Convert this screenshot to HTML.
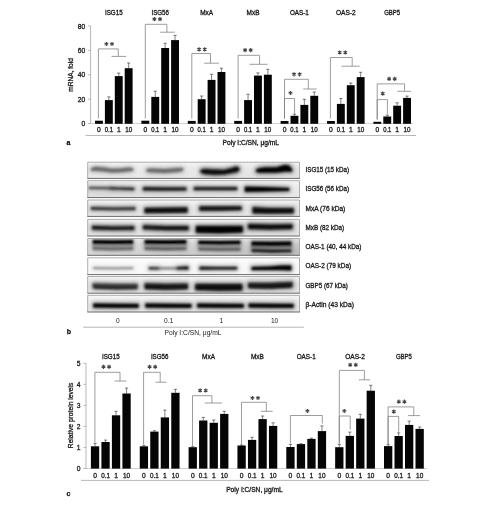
<!DOCTYPE html>
<html><head><meta charset="utf-8"><style>
html,body{margin:0;padding:0;background:#fff;width:496px;height:508px;overflow:hidden}
text{font-family:"Liberation Sans", sans-serif}
</style></head><body>
<svg width="496" height="508" viewBox="0 0 496 508" style="display:block;filter:grayscale(1)">
<defs><filter id="bl" x="-20%" y="-50%" width="140%" height="200%"><feGaussianBlur stdDeviation="0.95"/></filter><linearGradient id="vg" x1="0" x2="0" y1="0" y2="1"><stop offset="0" stop-color="#fff" stop-opacity="0.55"/><stop offset="0.35" stop-color="#fff" stop-opacity="0.15"/><stop offset="0.7" stop-color="#fff" stop-opacity="0"/></linearGradient><filter id="bh" x="-20%" y="-100%" width="140%" height="300%"><feGaussianBlur stdDeviation="2.0"/></filter></defs>
<g font-family='"Liberation Sans", sans-serif'>
<line x1="90.60" y1="25.95" x2="90.60" y2="123.55" stroke="#9a9a9a" stroke-width="0.7"/>
<line x1="88.10" y1="123.55" x2="90.60" y2="123.55" stroke="#9a9a9a" stroke-width="0.7"/>
<text x="85.20" y="126.23" font-size="6.7" text-anchor="end" fill="#1a1a1a" font-weight="normal" stroke="#1a1a1a" stroke-width="0.3">0</text>
<line x1="88.10" y1="99.15" x2="90.60" y2="99.15" stroke="#9a9a9a" stroke-width="0.7"/>
<text x="85.20" y="101.83" font-size="6.7" text-anchor="end" fill="#1a1a1a" font-weight="normal" stroke="#1a1a1a" stroke-width="0.3">20</text>
<line x1="88.10" y1="74.75" x2="90.60" y2="74.75" stroke="#9a9a9a" stroke-width="0.7"/>
<text x="85.20" y="77.43" font-size="6.7" text-anchor="end" fill="#1a1a1a" font-weight="normal" stroke="#1a1a1a" stroke-width="0.3">40</text>
<line x1="88.10" y1="50.35" x2="90.60" y2="50.35" stroke="#9a9a9a" stroke-width="0.7"/>
<text x="85.20" y="53.03" font-size="6.7" text-anchor="end" fill="#1a1a1a" font-weight="normal" stroke="#1a1a1a" stroke-width="0.3">60</text>
<line x1="88.10" y1="25.95" x2="90.60" y2="25.95" stroke="#9a9a9a" stroke-width="0.7"/>
<text x="85.20" y="28.63" font-size="6.7" text-anchor="end" fill="#1a1a1a" font-weight="normal" stroke="#1a1a1a" stroke-width="0.3">80</text>
<line x1="88.10" y1="123.55" x2="413.30" y2="123.55" stroke="#b0b0b0" stroke-width="0.6"/>
<path d="M98.4 118.5V48.9H118.3V56.4" stroke="#7c7c7c" stroke-width="0.75" fill="none"/>
<line x1="111.50" y1="56.40" x2="126.20" y2="56.40" stroke="#7c7c7c" stroke-width="0.75"/>
<path d="M106.40 46.10L106.40 41.90M104.58 45.05L108.22 42.95M104.58 42.95L108.22 45.05" stroke="#444444" stroke-width="1.1" fill="none"/>
<path d="M112.00 46.10L112.00 41.90M110.18 45.05L113.82 42.95M110.18 42.95L113.82 45.05" stroke="#444444" stroke-width="1.1" fill="none"/>
<path d="M145.3 118.5V24.3H166.9V32.2" stroke="#7c7c7c" stroke-width="0.75" fill="none"/>
<line x1="160.10" y1="32.20" x2="174.80" y2="32.20" stroke="#7c7c7c" stroke-width="0.75"/>
<path d="M154.40 21.20L154.40 17.00M152.58 20.15L156.22 18.05M152.58 18.05L156.22 20.15" stroke="#444444" stroke-width="1.1" fill="none"/>
<path d="M160.00 21.20L160.00 17.00M158.18 20.15L161.82 18.05M158.18 18.05L161.82 20.15" stroke="#444444" stroke-width="1.1" fill="none"/>
<path d="M191.8 118.5V53.5H210.5V63.2" stroke="#7c7c7c" stroke-width="0.75" fill="none"/>
<line x1="204.20" y1="63.20" x2="218.90" y2="63.20" stroke="#7c7c7c" stroke-width="0.75"/>
<path d="M199.10 51.50L199.10 47.30M197.28 50.45L200.92 48.35M197.28 48.35L200.92 50.45" stroke="#444444" stroke-width="1.1" fill="none"/>
<path d="M204.70 51.50L204.70 47.30M202.88 50.45L206.52 48.35M202.88 48.35L206.52 50.45" stroke="#444444" stroke-width="1.1" fill="none"/>
<path d="M238.1 118.5V55.3H259.6V64.3" stroke="#7c7c7c" stroke-width="0.75" fill="none"/>
<line x1="249.50" y1="64.30" x2="267.60" y2="64.30" stroke="#7c7c7c" stroke-width="0.75"/>
<path d="M245.10 52.20L245.10 48.00M243.28 51.15L246.92 49.05M243.28 49.05L246.92 51.15" stroke="#444444" stroke-width="1.1" fill="none"/>
<path d="M250.70 52.20L250.70 48.00M248.88 51.15L252.52 49.05M248.88 49.05L252.52 51.15" stroke="#444444" stroke-width="1.1" fill="none"/>
<path d="M284.5 118.5V79.3H308.3V89.0" stroke="#7c7c7c" stroke-width="0.75" fill="none"/>
<line x1="303.20" y1="89.00" x2="316.70" y2="89.00" stroke="#7c7c7c" stroke-width="0.75"/>
<path d="M294.00 76.40L294.00 72.20M292.18 75.35L295.82 73.25M292.18 73.25L295.82 75.35" stroke="#444444" stroke-width="1.1" fill="none"/>
<path d="M299.60 76.40L299.60 72.20M297.78 75.35L301.42 73.25M297.78 73.25L301.42 75.35" stroke="#444444" stroke-width="1.1" fill="none"/>
<path d="M284.5 118.5V98.5H294.6V113.6" stroke="#7c7c7c" stroke-width="0.75" fill="none"/>
<path d="M290.50 95.10L290.50 90.90M288.68 94.05L292.32 91.95M288.68 91.95L292.32 94.05" stroke="#444444" stroke-width="1.1" fill="none"/>
<path d="M330.4 118.5V57.5H352.2V66.2" stroke="#7c7c7c" stroke-width="0.75" fill="none"/>
<line x1="341.50" y1="66.20" x2="359.70" y2="66.20" stroke="#7c7c7c" stroke-width="0.75"/>
<path d="M339.70 54.60L339.70 50.40M337.88 53.55L341.52 51.45M337.88 51.45L341.52 53.55" stroke="#444444" stroke-width="1.1" fill="none"/>
<path d="M345.30 54.60L345.30 50.40M343.48 53.55L347.12 51.45M343.48 51.45L347.12 53.55" stroke="#444444" stroke-width="1.1" fill="none"/>
<path d="M377.2 119.5V83.9H404.6V91.3" stroke="#7c7c7c" stroke-width="0.75" fill="none"/>
<line x1="397.50" y1="91.30" x2="411.00" y2="91.30" stroke="#7c7c7c" stroke-width="0.75"/>
<path d="M389.10 81.00L389.10 76.80M387.28 79.95L390.92 77.85M387.28 77.85L390.92 79.95" stroke="#444444" stroke-width="1.1" fill="none"/>
<path d="M394.70 81.00L394.70 76.80M392.88 79.95L396.52 77.85M392.88 77.85L396.52 79.95" stroke="#444444" stroke-width="1.1" fill="none"/>
<path d="M377.2 119.5V99.6H387.4V114.3" stroke="#7c7c7c" stroke-width="0.75" fill="none"/>
<path d="M382.70 95.70L382.70 91.50M380.88 94.65L384.52 92.55M380.88 92.55L384.52 94.65" stroke="#444444" stroke-width="1.1" fill="none"/>
<rect x="95.00" y="120.70" width="7.9" height="3.10" fill="#050505"/>
<text x="98.95" y="131.53" font-size="6.7" text-anchor="middle" fill="#1a1a1a" font-weight="normal" stroke="#1a1a1a" stroke-width="0.3">0</text>
<line x1="108.85" y1="96.90" x2="108.85" y2="100.10" stroke="#3a3a3a" stroke-width="0.65"/>
<line x1="107.25" y1="96.90" x2="110.45" y2="96.90" stroke="#3a3a3a" stroke-width="0.65"/>
<rect x="104.90" y="100.10" width="7.9" height="23.70" fill="#050505"/>
<text x="108.85" y="131.53" font-size="6.7" text-anchor="middle" fill="#1a1a1a" font-weight="normal" stroke="#1a1a1a" stroke-width="0.3" textLength="8.2" lengthAdjust="spacingAndGlyphs">0.1</text>
<line x1="118.75" y1="73.10" x2="118.75" y2="76.10" stroke="#3a3a3a" stroke-width="0.65"/>
<line x1="117.15" y1="73.10" x2="120.35" y2="73.10" stroke="#3a3a3a" stroke-width="0.65"/>
<rect x="114.80" y="76.10" width="7.9" height="47.70" fill="#050505"/>
<text x="118.75" y="131.53" font-size="6.7" text-anchor="middle" fill="#1a1a1a" font-weight="normal" stroke="#1a1a1a" stroke-width="0.3">1</text>
<line x1="128.65" y1="63.00" x2="128.65" y2="68.20" stroke="#3a3a3a" stroke-width="0.65"/>
<line x1="127.05" y1="63.00" x2="130.25" y2="63.00" stroke="#3a3a3a" stroke-width="0.65"/>
<rect x="124.70" y="68.20" width="7.9" height="55.60" fill="#050505"/>
<text x="128.65" y="131.53" font-size="6.7" text-anchor="middle" fill="#1a1a1a" font-weight="normal" stroke="#1a1a1a" stroke-width="0.3" textLength="7.0" lengthAdjust="spacingAndGlyphs">10</text>
<text x="113.80" y="14.72" font-size="7.3" text-anchor="middle" fill="#141414" font-weight="normal" stroke="#141414" stroke-width="0.3" textLength="17.7" lengthAdjust="spacingAndGlyphs">ISG15</text>
<rect x="141.40" y="120.70" width="7.9" height="3.10" fill="#050505"/>
<text x="145.35" y="131.53" font-size="6.7" text-anchor="middle" fill="#1a1a1a" font-weight="normal" stroke="#1a1a1a" stroke-width="0.3">0</text>
<line x1="155.25" y1="91.20" x2="155.25" y2="96.90" stroke="#3a3a3a" stroke-width="0.65"/>
<line x1="153.65" y1="91.20" x2="156.85" y2="91.20" stroke="#3a3a3a" stroke-width="0.65"/>
<rect x="151.30" y="96.90" width="7.9" height="26.90" fill="#050505"/>
<text x="155.25" y="131.53" font-size="6.7" text-anchor="middle" fill="#1a1a1a" font-weight="normal" stroke="#1a1a1a" stroke-width="0.3" textLength="8.2" lengthAdjust="spacingAndGlyphs">0.1</text>
<line x1="165.15" y1="43.30" x2="165.15" y2="48.00" stroke="#3a3a3a" stroke-width="0.65"/>
<line x1="163.55" y1="43.30" x2="166.75" y2="43.30" stroke="#3a3a3a" stroke-width="0.65"/>
<rect x="161.20" y="48.00" width="7.9" height="75.80" fill="#050505"/>
<text x="165.15" y="131.53" font-size="6.7" text-anchor="middle" fill="#1a1a1a" font-weight="normal" stroke="#1a1a1a" stroke-width="0.3">1</text>
<line x1="175.05" y1="35.40" x2="175.05" y2="40.10" stroke="#3a3a3a" stroke-width="0.65"/>
<line x1="173.45" y1="35.40" x2="176.65" y2="35.40" stroke="#3a3a3a" stroke-width="0.65"/>
<rect x="171.10" y="40.10" width="7.9" height="83.70" fill="#050505"/>
<text x="175.05" y="131.53" font-size="6.7" text-anchor="middle" fill="#1a1a1a" font-weight="normal" stroke="#1a1a1a" stroke-width="0.3" textLength="7.0" lengthAdjust="spacingAndGlyphs">10</text>
<text x="160.20" y="14.72" font-size="7.3" text-anchor="middle" fill="#141414" font-weight="normal" stroke="#141414" stroke-width="0.3" textLength="17.5" lengthAdjust="spacingAndGlyphs">ISG56</text>
<rect x="187.80" y="120.90" width="7.9" height="2.90" fill="#050505"/>
<text x="191.75" y="131.53" font-size="6.7" text-anchor="middle" fill="#1a1a1a" font-weight="normal" stroke="#1a1a1a" stroke-width="0.3">0</text>
<line x1="201.65" y1="96.00" x2="201.65" y2="99.20" stroke="#3a3a3a" stroke-width="0.65"/>
<line x1="200.05" y1="96.00" x2="203.25" y2="96.00" stroke="#3a3a3a" stroke-width="0.65"/>
<rect x="197.70" y="99.20" width="7.9" height="24.60" fill="#050505"/>
<text x="201.65" y="131.53" font-size="6.7" text-anchor="middle" fill="#1a1a1a" font-weight="normal" stroke="#1a1a1a" stroke-width="0.3" textLength="8.2" lengthAdjust="spacingAndGlyphs">0.1</text>
<line x1="211.55" y1="74.30" x2="211.55" y2="79.90" stroke="#3a3a3a" stroke-width="0.65"/>
<line x1="209.95" y1="74.30" x2="213.15" y2="74.30" stroke="#3a3a3a" stroke-width="0.65"/>
<rect x="207.60" y="79.90" width="7.9" height="43.90" fill="#050505"/>
<text x="211.55" y="131.53" font-size="6.7" text-anchor="middle" fill="#1a1a1a" font-weight="normal" stroke="#1a1a1a" stroke-width="0.3">1</text>
<line x1="221.45" y1="68.20" x2="221.45" y2="72.00" stroke="#3a3a3a" stroke-width="0.65"/>
<line x1="219.85" y1="68.20" x2="223.05" y2="68.20" stroke="#3a3a3a" stroke-width="0.65"/>
<rect x="217.50" y="72.00" width="7.9" height="51.80" fill="#050505"/>
<text x="221.45" y="131.53" font-size="6.7" text-anchor="middle" fill="#1a1a1a" font-weight="normal" stroke="#1a1a1a" stroke-width="0.3" textLength="7.0" lengthAdjust="spacingAndGlyphs">10</text>
<text x="206.60" y="14.72" font-size="7.3" text-anchor="middle" fill="#141414" font-weight="normal" stroke="#141414" stroke-width="0.3" textLength="12.9" lengthAdjust="spacingAndGlyphs">MxA</text>
<rect x="234.20" y="120.90" width="7.9" height="2.90" fill="#050505"/>
<text x="238.15" y="131.53" font-size="6.7" text-anchor="middle" fill="#1a1a1a" font-weight="normal" stroke="#1a1a1a" stroke-width="0.3">0</text>
<line x1="248.05" y1="94.20" x2="248.05" y2="100.10" stroke="#3a3a3a" stroke-width="0.65"/>
<line x1="246.45" y1="94.20" x2="249.65" y2="94.20" stroke="#3a3a3a" stroke-width="0.65"/>
<rect x="244.10" y="100.10" width="7.9" height="23.70" fill="#050505"/>
<text x="248.05" y="131.53" font-size="6.7" text-anchor="middle" fill="#1a1a1a" font-weight="normal" stroke="#1a1a1a" stroke-width="0.3" textLength="8.2" lengthAdjust="spacingAndGlyphs">0.1</text>
<line x1="257.95" y1="72.90" x2="257.95" y2="75.60" stroke="#3a3a3a" stroke-width="0.65"/>
<line x1="256.35" y1="72.90" x2="259.55" y2="72.90" stroke="#3a3a3a" stroke-width="0.65"/>
<rect x="254.00" y="75.60" width="7.9" height="48.20" fill="#050505"/>
<text x="257.95" y="131.53" font-size="6.7" text-anchor="middle" fill="#1a1a1a" font-weight="normal" stroke="#1a1a1a" stroke-width="0.3">1</text>
<line x1="267.85" y1="69.30" x2="267.85" y2="74.70" stroke="#3a3a3a" stroke-width="0.65"/>
<line x1="266.25" y1="69.30" x2="269.45" y2="69.30" stroke="#3a3a3a" stroke-width="0.65"/>
<rect x="263.90" y="74.70" width="7.9" height="49.10" fill="#050505"/>
<text x="267.85" y="131.53" font-size="6.7" text-anchor="middle" fill="#1a1a1a" font-weight="normal" stroke="#1a1a1a" stroke-width="0.3" textLength="7.0" lengthAdjust="spacingAndGlyphs">10</text>
<text x="253.00" y="14.72" font-size="7.3" text-anchor="middle" fill="#141414" font-weight="normal" stroke="#141414" stroke-width="0.3" textLength="12.9" lengthAdjust="spacingAndGlyphs">MxB</text>
<rect x="280.60" y="121.00" width="7.9" height="2.80" fill="#050505"/>
<text x="284.55" y="131.53" font-size="6.7" text-anchor="middle" fill="#1a1a1a" font-weight="normal" stroke="#1a1a1a" stroke-width="0.3">0</text>
<line x1="294.45" y1="114.20" x2="294.45" y2="115.80" stroke="#3a3a3a" stroke-width="0.65"/>
<line x1="292.85" y1="114.20" x2="296.05" y2="114.20" stroke="#3a3a3a" stroke-width="0.65"/>
<rect x="290.50" y="115.80" width="7.9" height="8.00" fill="#050505"/>
<text x="294.45" y="131.53" font-size="6.7" text-anchor="middle" fill="#1a1a1a" font-weight="normal" stroke="#1a1a1a" stroke-width="0.3" textLength="8.2" lengthAdjust="spacingAndGlyphs">0.1</text>
<line x1="304.35" y1="99.30" x2="304.35" y2="104.90" stroke="#3a3a3a" stroke-width="0.65"/>
<line x1="302.75" y1="99.30" x2="305.95" y2="99.30" stroke="#3a3a3a" stroke-width="0.65"/>
<rect x="300.40" y="104.90" width="7.9" height="18.90" fill="#050505"/>
<text x="304.35" y="131.53" font-size="6.7" text-anchor="middle" fill="#1a1a1a" font-weight="normal" stroke="#1a1a1a" stroke-width="0.3">1</text>
<line x1="314.25" y1="92.00" x2="314.25" y2="95.80" stroke="#3a3a3a" stroke-width="0.65"/>
<line x1="312.65" y1="92.00" x2="315.85" y2="92.00" stroke="#3a3a3a" stroke-width="0.65"/>
<rect x="310.30" y="95.80" width="7.9" height="28.00" fill="#050505"/>
<text x="314.25" y="131.53" font-size="6.7" text-anchor="middle" fill="#1a1a1a" font-weight="normal" stroke="#1a1a1a" stroke-width="0.3" textLength="7.0" lengthAdjust="spacingAndGlyphs">10</text>
<text x="299.40" y="14.72" font-size="7.3" text-anchor="middle" fill="#141414" font-weight="normal" stroke="#141414" stroke-width="0.3" textLength="19.0" lengthAdjust="spacingAndGlyphs">OAS-1</text>
<rect x="327.00" y="121.00" width="7.9" height="2.80" fill="#050505"/>
<text x="330.95" y="131.53" font-size="6.7" text-anchor="middle" fill="#1a1a1a" font-weight="normal" stroke="#1a1a1a" stroke-width="0.3">0</text>
<line x1="340.85" y1="98.50" x2="340.85" y2="103.90" stroke="#3a3a3a" stroke-width="0.65"/>
<line x1="339.25" y1="98.50" x2="342.45" y2="98.50" stroke="#3a3a3a" stroke-width="0.65"/>
<rect x="336.90" y="103.90" width="7.9" height="19.90" fill="#050505"/>
<text x="340.85" y="131.53" font-size="6.7" text-anchor="middle" fill="#1a1a1a" font-weight="normal" stroke="#1a1a1a" stroke-width="0.3" textLength="8.2" lengthAdjust="spacingAndGlyphs">0.1</text>
<line x1="350.75" y1="83.10" x2="350.75" y2="85.20" stroke="#3a3a3a" stroke-width="0.65"/>
<line x1="349.15" y1="83.10" x2="352.35" y2="83.10" stroke="#3a3a3a" stroke-width="0.65"/>
<rect x="346.80" y="85.20" width="7.9" height="38.60" fill="#050505"/>
<text x="350.75" y="131.53" font-size="6.7" text-anchor="middle" fill="#1a1a1a" font-weight="normal" stroke="#1a1a1a" stroke-width="0.3">1</text>
<line x1="360.65" y1="72.30" x2="360.65" y2="77.10" stroke="#3a3a3a" stroke-width="0.65"/>
<line x1="359.05" y1="72.30" x2="362.25" y2="72.30" stroke="#3a3a3a" stroke-width="0.65"/>
<rect x="356.70" y="77.10" width="7.9" height="46.70" fill="#050505"/>
<text x="360.65" y="131.53" font-size="6.7" text-anchor="middle" fill="#1a1a1a" font-weight="normal" stroke="#1a1a1a" stroke-width="0.3" textLength="7.0" lengthAdjust="spacingAndGlyphs">10</text>
<text x="345.80" y="14.72" font-size="7.3" text-anchor="middle" fill="#141414" font-weight="normal" stroke="#141414" stroke-width="0.3" textLength="19.8" lengthAdjust="spacingAndGlyphs">OAS-2</text>
<rect x="373.40" y="121.80" width="7.9" height="2.00" fill="#050505"/>
<text x="377.35" y="131.53" font-size="6.7" text-anchor="middle" fill="#1a1a1a" font-weight="normal" stroke="#1a1a1a" stroke-width="0.3">0</text>
<line x1="387.25" y1="115.20" x2="387.25" y2="116.50" stroke="#3a3a3a" stroke-width="0.65"/>
<line x1="385.65" y1="115.20" x2="388.85" y2="115.20" stroke="#3a3a3a" stroke-width="0.65"/>
<rect x="383.30" y="116.50" width="7.9" height="7.30" fill="#050505"/>
<text x="387.25" y="131.53" font-size="6.7" text-anchor="middle" fill="#1a1a1a" font-weight="normal" stroke="#1a1a1a" stroke-width="0.3" textLength="8.2" lengthAdjust="spacingAndGlyphs">0.1</text>
<line x1="397.15" y1="102.80" x2="397.15" y2="105.70" stroke="#3a3a3a" stroke-width="0.65"/>
<line x1="395.55" y1="102.80" x2="398.75" y2="102.80" stroke="#3a3a3a" stroke-width="0.65"/>
<rect x="393.20" y="105.70" width="7.9" height="18.10" fill="#050505"/>
<text x="397.15" y="131.53" font-size="6.7" text-anchor="middle" fill="#1a1a1a" font-weight="normal" stroke="#1a1a1a" stroke-width="0.3">1</text>
<line x1="407.05" y1="96.10" x2="407.05" y2="97.90" stroke="#3a3a3a" stroke-width="0.65"/>
<line x1="405.45" y1="96.10" x2="408.65" y2="96.10" stroke="#3a3a3a" stroke-width="0.65"/>
<rect x="403.10" y="97.90" width="7.9" height="25.90" fill="#050505"/>
<text x="407.05" y="131.53" font-size="6.7" text-anchor="middle" fill="#1a1a1a" font-weight="normal" stroke="#1a1a1a" stroke-width="0.3" textLength="7.0" lengthAdjust="spacingAndGlyphs">10</text>
<text x="392.20" y="14.72" font-size="7.3" text-anchor="middle" fill="#141414" font-weight="normal" stroke="#141414" stroke-width="0.3" textLength="16.0" lengthAdjust="spacingAndGlyphs">GBP5</text>
<text transform="translate(72.8,74.9) rotate(-90)" x="0" y="0" font-size="6.7" text-anchor="middle" fill="#1a1a1a" stroke="#1a1a1a" stroke-width="0.3" textLength="33.6" lengthAdjust="spacingAndGlyphs">mRNA, fold</text>
<line x1="85.50" y1="135.50" x2="416.00" y2="135.50" stroke="#9a9a9a" stroke-width="0.7"/>
<text x="250.80" y="144.86" font-size="6.4" text-anchor="middle" fill="#1a1a1a" font-weight="normal" stroke="#1a1a1a" stroke-width="0.3" textLength="56.5" lengthAdjust="spacingAndGlyphs">Poly I:C/SN, μg/mL</text>
<text x="68.50" y="145.10" font-size="7" text-anchor="middle" fill="#111" font-weight="bold" stroke="#111" stroke-width="0.25">a</text>
<line x1="86.00" y1="363.30" x2="86.00" y2="468.50" stroke="#9a9a9a" stroke-width="0.7"/>
<line x1="83.50" y1="468.50" x2="86.00" y2="468.50" stroke="#9a9a9a" stroke-width="0.7"/>
<text x="80.60" y="471.18" font-size="6.7" text-anchor="end" fill="#1a1a1a" font-weight="normal" stroke="#1a1a1a" stroke-width="0.3">0</text>
<line x1="83.50" y1="447.46" x2="86.00" y2="447.46" stroke="#9a9a9a" stroke-width="0.7"/>
<text x="80.60" y="450.14" font-size="6.7" text-anchor="end" fill="#1a1a1a" font-weight="normal" stroke="#1a1a1a" stroke-width="0.3">1</text>
<line x1="83.50" y1="426.42" x2="86.00" y2="426.42" stroke="#9a9a9a" stroke-width="0.7"/>
<text x="80.60" y="429.10" font-size="6.7" text-anchor="end" fill="#1a1a1a" font-weight="normal" stroke="#1a1a1a" stroke-width="0.3">2</text>
<line x1="83.50" y1="405.38" x2="86.00" y2="405.38" stroke="#9a9a9a" stroke-width="0.7"/>
<text x="80.60" y="408.06" font-size="6.7" text-anchor="end" fill="#1a1a1a" font-weight="normal" stroke="#1a1a1a" stroke-width="0.3">3</text>
<line x1="83.50" y1="384.34" x2="86.00" y2="384.34" stroke="#9a9a9a" stroke-width="0.7"/>
<text x="80.60" y="387.02" font-size="6.7" text-anchor="end" fill="#1a1a1a" font-weight="normal" stroke="#1a1a1a" stroke-width="0.3">4</text>
<line x1="83.50" y1="363.30" x2="86.00" y2="363.30" stroke="#9a9a9a" stroke-width="0.7"/>
<text x="80.60" y="365.98" font-size="6.7" text-anchor="end" fill="#1a1a1a" font-weight="normal" stroke="#1a1a1a" stroke-width="0.3">5</text>
<line x1="83.50" y1="468.50" x2="426.80" y2="468.50" stroke="#b0b0b0" stroke-width="0.6"/>
<path d="M94.9 442.5V372.3H120.0V381.0" stroke="#7c7c7c" stroke-width="0.75" fill="none"/>
<line x1="114.60" y1="381.00" x2="126.40" y2="381.00" stroke="#7c7c7c" stroke-width="0.75"/>
<path d="M103.50 368.90L103.50 364.70M101.68 367.85L105.32 365.75M101.68 365.75L105.32 367.85" stroke="#444444" stroke-width="1.1" fill="none"/>
<path d="M109.10 368.90L109.10 364.70M107.28 367.85L110.92 365.75M107.28 365.75L110.92 367.85" stroke="#444444" stroke-width="1.1" fill="none"/>
<path d="M143.6 444.5V372.3H160.2V382.2" stroke="#7c7c7c" stroke-width="0.75" fill="none"/>
<line x1="155.40" y1="382.20" x2="166.60" y2="382.20" stroke="#7c7c7c" stroke-width="0.75"/>
<path d="M149.60 368.90L149.60 364.70M147.78 367.85L151.42 365.75M147.78 365.75L151.42 367.85" stroke="#444444" stroke-width="1.1" fill="none"/>
<path d="M155.20 368.90L155.20 364.70M153.38 367.85L157.02 365.75M153.38 365.75L157.02 367.85" stroke="#444444" stroke-width="1.1" fill="none"/>
<path d="M192.5 446.0V395.7H211.9V403.0" stroke="#7c7c7c" stroke-width="0.75" fill="none"/>
<line x1="204.80" y1="403.00" x2="222.10" y2="403.00" stroke="#7c7c7c" stroke-width="0.75"/>
<path d="M200.10 392.60L200.10 388.40M198.28 391.55L201.92 389.45M198.28 389.45L201.92 391.55" stroke="#444444" stroke-width="1.1" fill="none"/>
<path d="M205.70 392.60L205.70 388.40M203.88 391.55L207.52 389.45M203.88 389.45L207.52 391.55" stroke="#444444" stroke-width="1.1" fill="none"/>
<path d="M241.5 444.5V402.3H266.3V411.3" stroke="#7c7c7c" stroke-width="0.75" fill="none"/>
<line x1="260.90" y1="411.30" x2="272.70" y2="411.30" stroke="#7c7c7c" stroke-width="0.75"/>
<path d="M252.40 400.10L252.40 395.90M250.58 399.05L254.22 396.95M250.58 396.95L254.22 399.05" stroke="#444444" stroke-width="1.1" fill="none"/>
<path d="M258.00 400.10L258.00 395.90M256.18 399.05L259.82 396.95M256.18 396.95L259.82 399.05" stroke="#444444" stroke-width="1.1" fill="none"/>
<path d="M290.4 443.5V415.5H322.3V423.6" stroke="#7c7c7c" stroke-width="0.75" fill="none"/>
<path d="M307.40 413.10L307.40 408.90M305.58 412.05L309.22 409.95M305.58 409.95L309.22 412.05" stroke="#444444" stroke-width="1.1" fill="none"/>
<path d="M339.3 443.5V370.4H364.4V379.8" stroke="#7c7c7c" stroke-width="0.75" fill="none"/>
<line x1="358.90" y1="379.80" x2="370.00" y2="379.80" stroke="#7c7c7c" stroke-width="0.75"/>
<path d="M350.20 367.00L350.20 362.80M348.38 365.95L352.02 363.85M348.38 363.85L352.02 365.95" stroke="#444444" stroke-width="1.1" fill="none"/>
<path d="M355.80 367.00L355.80 362.80M353.98 365.95L357.62 363.85M353.98 363.85L357.62 365.95" stroke="#444444" stroke-width="1.1" fill="none"/>
<path d="M339.3 443.5V416.0H350.2V429.5" stroke="#7c7c7c" stroke-width="0.75" fill="none"/>
<path d="M344.30 413.10L344.30 408.90M342.48 412.05L346.12 409.95M342.48 409.95L346.12 412.05" stroke="#444444" stroke-width="1.1" fill="none"/>
<path d="M388.1 444.0V406.9H413.8V415.6" stroke="#7c7c7c" stroke-width="0.75" fill="none"/>
<line x1="408.00" y1="415.60" x2="420.00" y2="415.60" stroke="#7c7c7c" stroke-width="0.75"/>
<path d="M398.80 403.80L398.80 399.60M396.98 402.75L400.62 400.65M396.98 400.65L400.62 402.75" stroke="#444444" stroke-width="1.1" fill="none"/>
<path d="M404.40 403.80L404.40 399.60M402.58 402.75L406.22 400.65M402.58 400.65L406.22 402.75" stroke="#444444" stroke-width="1.1" fill="none"/>
<path d="M388.1 444.0V416.4H398.7V431.7" stroke="#7c7c7c" stroke-width="0.75" fill="none"/>
<path d="M393.80 413.70L393.80 409.50M391.98 412.65L395.62 410.55M391.98 410.55L395.62 412.65" stroke="#444444" stroke-width="1.1" fill="none"/>
<line x1="95.05" y1="443.40" x2="95.05" y2="446.30" stroke="#3a3a3a" stroke-width="0.65"/>
<line x1="93.45" y1="443.40" x2="96.65" y2="443.40" stroke="#3a3a3a" stroke-width="0.65"/>
<rect x="90.90" y="446.30" width="8.3" height="22.30" fill="#050505"/>
<text x="95.05" y="477.78" font-size="6.7" text-anchor="middle" fill="#1a1a1a" font-weight="normal" stroke="#1a1a1a" stroke-width="0.3">0</text>
<line x1="105.55" y1="440.10" x2="105.55" y2="442.00" stroke="#3a3a3a" stroke-width="0.65"/>
<line x1="103.95" y1="440.10" x2="107.15" y2="440.10" stroke="#3a3a3a" stroke-width="0.65"/>
<rect x="101.40" y="442.00" width="8.3" height="26.60" fill="#050505"/>
<text x="105.55" y="477.78" font-size="6.7" text-anchor="middle" fill="#1a1a1a" font-weight="normal" stroke="#1a1a1a" stroke-width="0.3" textLength="8.8" lengthAdjust="spacingAndGlyphs">0.1</text>
<line x1="116.05" y1="411.30" x2="116.05" y2="415.30" stroke="#3a3a3a" stroke-width="0.65"/>
<line x1="114.45" y1="411.30" x2="117.65" y2="411.30" stroke="#3a3a3a" stroke-width="0.65"/>
<rect x="111.90" y="415.30" width="8.3" height="53.30" fill="#050505"/>
<text x="116.05" y="477.78" font-size="6.7" text-anchor="middle" fill="#1a1a1a" font-weight="normal" stroke="#1a1a1a" stroke-width="0.3">1</text>
<line x1="126.55" y1="388.10" x2="126.55" y2="393.50" stroke="#3a3a3a" stroke-width="0.65"/>
<line x1="124.95" y1="388.10" x2="128.15" y2="388.10" stroke="#3a3a3a" stroke-width="0.65"/>
<rect x="122.40" y="393.50" width="8.3" height="75.10" fill="#050505"/>
<text x="126.55" y="477.78" font-size="6.7" text-anchor="middle" fill="#1a1a1a" font-weight="normal" stroke="#1a1a1a" stroke-width="0.3" textLength="7.2" lengthAdjust="spacingAndGlyphs">10</text>
<text x="110.80" y="359.32" font-size="7.3" text-anchor="middle" fill="#141414" font-weight="normal" stroke="#141414" stroke-width="0.3" textLength="17.7" lengthAdjust="spacingAndGlyphs">ISG15</text>
<line x1="143.90" y1="445.30" x2="143.90" y2="446.30" stroke="#3a3a3a" stroke-width="0.65"/>
<line x1="142.30" y1="445.30" x2="145.50" y2="445.30" stroke="#3a3a3a" stroke-width="0.65"/>
<rect x="139.75" y="446.30" width="8.3" height="22.30" fill="#050505"/>
<text x="143.90" y="477.78" font-size="6.7" text-anchor="middle" fill="#1a1a1a" font-weight="normal" stroke="#1a1a1a" stroke-width="0.3">0</text>
<line x1="154.40" y1="430.70" x2="154.40" y2="431.60" stroke="#3a3a3a" stroke-width="0.65"/>
<line x1="152.80" y1="430.70" x2="156.00" y2="430.70" stroke="#3a3a3a" stroke-width="0.65"/>
<rect x="150.25" y="431.60" width="8.3" height="37.00" fill="#050505"/>
<text x="154.40" y="477.78" font-size="6.7" text-anchor="middle" fill="#1a1a1a" font-weight="normal" stroke="#1a1a1a" stroke-width="0.3" textLength="8.8" lengthAdjust="spacingAndGlyphs">0.1</text>
<line x1="164.90" y1="410.10" x2="164.90" y2="417.40" stroke="#3a3a3a" stroke-width="0.65"/>
<line x1="163.30" y1="410.10" x2="166.50" y2="410.10" stroke="#3a3a3a" stroke-width="0.65"/>
<rect x="160.75" y="417.40" width="8.3" height="51.20" fill="#050505"/>
<text x="164.90" y="477.78" font-size="6.7" text-anchor="middle" fill="#1a1a1a" font-weight="normal" stroke="#1a1a1a" stroke-width="0.3">1</text>
<line x1="175.40" y1="389.30" x2="175.40" y2="392.80" stroke="#3a3a3a" stroke-width="0.65"/>
<line x1="173.80" y1="389.30" x2="177.00" y2="389.30" stroke="#3a3a3a" stroke-width="0.65"/>
<rect x="171.25" y="392.80" width="8.3" height="75.80" fill="#050505"/>
<text x="175.40" y="477.78" font-size="6.7" text-anchor="middle" fill="#1a1a1a" font-weight="normal" stroke="#1a1a1a" stroke-width="0.3" textLength="7.2" lengthAdjust="spacingAndGlyphs">10</text>
<text x="159.65" y="359.32" font-size="7.3" text-anchor="middle" fill="#141414" font-weight="normal" stroke="#141414" stroke-width="0.3" textLength="17.5" lengthAdjust="spacingAndGlyphs">ISG56</text>
<line x1="192.75" y1="446.70" x2="192.75" y2="447.20" stroke="#3a3a3a" stroke-width="0.65"/>
<line x1="191.15" y1="446.70" x2="194.35" y2="446.70" stroke="#3a3a3a" stroke-width="0.65"/>
<rect x="188.60" y="447.20" width="8.3" height="21.40" fill="#050505"/>
<text x="192.75" y="477.78" font-size="6.7" text-anchor="middle" fill="#1a1a1a" font-weight="normal" stroke="#1a1a1a" stroke-width="0.3">0</text>
<line x1="203.25" y1="417.40" x2="203.25" y2="420.50" stroke="#3a3a3a" stroke-width="0.65"/>
<line x1="201.65" y1="417.40" x2="204.85" y2="417.40" stroke="#3a3a3a" stroke-width="0.65"/>
<rect x="199.10" y="420.50" width="8.3" height="48.10" fill="#050505"/>
<text x="203.25" y="477.78" font-size="6.7" text-anchor="middle" fill="#1a1a1a" font-weight="normal" stroke="#1a1a1a" stroke-width="0.3" textLength="8.8" lengthAdjust="spacingAndGlyphs">0.1</text>
<line x1="213.75" y1="420.00" x2="213.75" y2="422.80" stroke="#3a3a3a" stroke-width="0.65"/>
<line x1="212.15" y1="420.00" x2="215.35" y2="420.00" stroke="#3a3a3a" stroke-width="0.65"/>
<rect x="209.60" y="422.80" width="8.3" height="45.80" fill="#050505"/>
<text x="213.75" y="477.78" font-size="6.7" text-anchor="middle" fill="#1a1a1a" font-weight="normal" stroke="#1a1a1a" stroke-width="0.3">1</text>
<line x1="224.25" y1="411.30" x2="224.25" y2="413.90" stroke="#3a3a3a" stroke-width="0.65"/>
<line x1="222.65" y1="411.30" x2="225.85" y2="411.30" stroke="#3a3a3a" stroke-width="0.65"/>
<rect x="220.10" y="413.90" width="8.3" height="54.70" fill="#050505"/>
<text x="224.25" y="477.78" font-size="6.7" text-anchor="middle" fill="#1a1a1a" font-weight="normal" stroke="#1a1a1a" stroke-width="0.3" textLength="7.2" lengthAdjust="spacingAndGlyphs">10</text>
<text x="208.50" y="359.32" font-size="7.3" text-anchor="middle" fill="#141414" font-weight="normal" stroke="#141414" stroke-width="0.3" textLength="12.9" lengthAdjust="spacingAndGlyphs">MxA</text>
<line x1="241.60" y1="445.00" x2="241.60" y2="445.50" stroke="#3a3a3a" stroke-width="0.65"/>
<line x1="240.00" y1="445.00" x2="243.20" y2="445.00" stroke="#3a3a3a" stroke-width="0.65"/>
<rect x="237.45" y="445.50" width="8.3" height="23.10" fill="#050505"/>
<text x="241.60" y="477.78" font-size="6.7" text-anchor="middle" fill="#1a1a1a" font-weight="normal" stroke="#1a1a1a" stroke-width="0.3">0</text>
<line x1="252.10" y1="437.30" x2="252.10" y2="439.90" stroke="#3a3a3a" stroke-width="0.65"/>
<line x1="250.50" y1="437.30" x2="253.70" y2="437.30" stroke="#3a3a3a" stroke-width="0.65"/>
<rect x="247.95" y="439.90" width="8.3" height="28.70" fill="#050505"/>
<text x="252.10" y="477.78" font-size="6.7" text-anchor="middle" fill="#1a1a1a" font-weight="normal" stroke="#1a1a1a" stroke-width="0.3" textLength="8.8" lengthAdjust="spacingAndGlyphs">0.1</text>
<line x1="262.60" y1="416.00" x2="262.60" y2="419.10" stroke="#3a3a3a" stroke-width="0.65"/>
<line x1="261.00" y1="416.00" x2="264.20" y2="416.00" stroke="#3a3a3a" stroke-width="0.65"/>
<rect x="258.45" y="419.10" width="8.3" height="49.50" fill="#050505"/>
<text x="262.60" y="477.78" font-size="6.7" text-anchor="middle" fill="#1a1a1a" font-weight="normal" stroke="#1a1a1a" stroke-width="0.3">1</text>
<line x1="273.10" y1="422.80" x2="273.10" y2="425.90" stroke="#3a3a3a" stroke-width="0.65"/>
<line x1="271.50" y1="422.80" x2="274.70" y2="422.80" stroke="#3a3a3a" stroke-width="0.65"/>
<rect x="268.95" y="425.90" width="8.3" height="42.70" fill="#050505"/>
<text x="273.10" y="477.78" font-size="6.7" text-anchor="middle" fill="#1a1a1a" font-weight="normal" stroke="#1a1a1a" stroke-width="0.3" textLength="7.2" lengthAdjust="spacingAndGlyphs">10</text>
<text x="257.35" y="359.32" font-size="7.3" text-anchor="middle" fill="#141414" font-weight="normal" stroke="#141414" stroke-width="0.3" textLength="12.9" lengthAdjust="spacingAndGlyphs">MxB</text>
<line x1="290.45" y1="444.40" x2="290.45" y2="447.00" stroke="#3a3a3a" stroke-width="0.65"/>
<line x1="288.85" y1="444.40" x2="292.05" y2="444.40" stroke="#3a3a3a" stroke-width="0.65"/>
<rect x="286.30" y="447.00" width="8.3" height="21.60" fill="#050505"/>
<text x="290.45" y="477.78" font-size="6.7" text-anchor="middle" fill="#1a1a1a" font-weight="normal" stroke="#1a1a1a" stroke-width="0.3">0</text>
<line x1="300.95" y1="443.70" x2="300.95" y2="444.10" stroke="#3a3a3a" stroke-width="0.65"/>
<line x1="299.35" y1="443.70" x2="302.55" y2="443.70" stroke="#3a3a3a" stroke-width="0.65"/>
<rect x="296.80" y="444.10" width="8.3" height="24.50" fill="#050505"/>
<text x="300.95" y="477.78" font-size="6.7" text-anchor="middle" fill="#1a1a1a" font-weight="normal" stroke="#1a1a1a" stroke-width="0.3" textLength="8.8" lengthAdjust="spacingAndGlyphs">0.1</text>
<line x1="311.45" y1="438.20" x2="311.45" y2="438.90" stroke="#3a3a3a" stroke-width="0.65"/>
<line x1="309.85" y1="438.20" x2="313.05" y2="438.20" stroke="#3a3a3a" stroke-width="0.65"/>
<rect x="307.30" y="438.90" width="8.3" height="29.70" fill="#050505"/>
<text x="311.45" y="477.78" font-size="6.7" text-anchor="middle" fill="#1a1a1a" font-weight="normal" stroke="#1a1a1a" stroke-width="0.3">1</text>
<line x1="321.95" y1="425.90" x2="321.95" y2="431.10" stroke="#3a3a3a" stroke-width="0.65"/>
<line x1="320.35" y1="425.90" x2="323.55" y2="425.90" stroke="#3a3a3a" stroke-width="0.65"/>
<rect x="317.80" y="431.10" width="8.3" height="37.50" fill="#050505"/>
<text x="321.95" y="477.78" font-size="6.7" text-anchor="middle" fill="#1a1a1a" font-weight="normal" stroke="#1a1a1a" stroke-width="0.3" textLength="7.2" lengthAdjust="spacingAndGlyphs">10</text>
<text x="306.20" y="359.32" font-size="7.3" text-anchor="middle" fill="#141414" font-weight="normal" stroke="#141414" stroke-width="0.3" textLength="19.0" lengthAdjust="spacingAndGlyphs">OAS-1</text>
<line x1="339.30" y1="444.40" x2="339.30" y2="447.20" stroke="#3a3a3a" stroke-width="0.65"/>
<line x1="337.70" y1="444.40" x2="340.90" y2="444.40" stroke="#3a3a3a" stroke-width="0.65"/>
<rect x="335.15" y="447.20" width="8.3" height="21.40" fill="#050505"/>
<text x="339.30" y="477.78" font-size="6.7" text-anchor="middle" fill="#1a1a1a" font-weight="normal" stroke="#1a1a1a" stroke-width="0.3">0</text>
<line x1="349.80" y1="432.10" x2="349.80" y2="435.90" stroke="#3a3a3a" stroke-width="0.65"/>
<line x1="348.20" y1="432.10" x2="351.40" y2="432.10" stroke="#3a3a3a" stroke-width="0.65"/>
<rect x="345.65" y="435.90" width="8.3" height="32.70" fill="#050505"/>
<text x="349.80" y="477.78" font-size="6.7" text-anchor="middle" fill="#1a1a1a" font-weight="normal" stroke="#1a1a1a" stroke-width="0.3" textLength="8.8" lengthAdjust="spacingAndGlyphs">0.1</text>
<line x1="360.30" y1="414.30" x2="360.30" y2="418.60" stroke="#3a3a3a" stroke-width="0.65"/>
<line x1="358.70" y1="414.30" x2="361.90" y2="414.30" stroke="#3a3a3a" stroke-width="0.65"/>
<rect x="356.15" y="418.60" width="8.3" height="50.00" fill="#050505"/>
<text x="360.30" y="477.78" font-size="6.7" text-anchor="middle" fill="#1a1a1a" font-weight="normal" stroke="#1a1a1a" stroke-width="0.3">1</text>
<line x1="370.80" y1="385.30" x2="370.80" y2="390.70" stroke="#3a3a3a" stroke-width="0.65"/>
<line x1="369.20" y1="385.30" x2="372.40" y2="385.30" stroke="#3a3a3a" stroke-width="0.65"/>
<rect x="366.65" y="390.70" width="8.3" height="77.90" fill="#050505"/>
<text x="370.80" y="477.78" font-size="6.7" text-anchor="middle" fill="#1a1a1a" font-weight="normal" stroke="#1a1a1a" stroke-width="0.3" textLength="7.2" lengthAdjust="spacingAndGlyphs">10</text>
<text x="355.05" y="359.32" font-size="7.3" text-anchor="middle" fill="#141414" font-weight="normal" stroke="#141414" stroke-width="0.3" textLength="19.8" lengthAdjust="spacingAndGlyphs">OAS-2</text>
<line x1="388.15" y1="444.70" x2="388.15" y2="446.10" stroke="#3a3a3a" stroke-width="0.65"/>
<line x1="386.55" y1="444.70" x2="389.75" y2="444.70" stroke="#3a3a3a" stroke-width="0.65"/>
<rect x="384.00" y="446.10" width="8.3" height="22.50" fill="#050505"/>
<text x="388.15" y="477.78" font-size="6.7" text-anchor="middle" fill="#1a1a1a" font-weight="normal" stroke="#1a1a1a" stroke-width="0.3">0</text>
<line x1="398.65" y1="432.90" x2="398.65" y2="436.00" stroke="#3a3a3a" stroke-width="0.65"/>
<line x1="397.05" y1="432.90" x2="400.25" y2="432.90" stroke="#3a3a3a" stroke-width="0.65"/>
<rect x="394.50" y="436.00" width="8.3" height="32.60" fill="#050505"/>
<text x="398.65" y="477.78" font-size="6.7" text-anchor="middle" fill="#1a1a1a" font-weight="normal" stroke="#1a1a1a" stroke-width="0.3" textLength="8.8" lengthAdjust="spacingAndGlyphs">0.1</text>
<line x1="409.15" y1="421.10" x2="409.15" y2="424.90" stroke="#3a3a3a" stroke-width="0.65"/>
<line x1="407.55" y1="421.10" x2="410.75" y2="421.10" stroke="#3a3a3a" stroke-width="0.65"/>
<rect x="405.00" y="424.90" width="8.3" height="43.70" fill="#050505"/>
<text x="409.15" y="477.78" font-size="6.7" text-anchor="middle" fill="#1a1a1a" font-weight="normal" stroke="#1a1a1a" stroke-width="0.3">1</text>
<line x1="419.65" y1="427.00" x2="419.65" y2="428.90" stroke="#3a3a3a" stroke-width="0.65"/>
<line x1="418.05" y1="427.00" x2="421.25" y2="427.00" stroke="#3a3a3a" stroke-width="0.65"/>
<rect x="415.50" y="428.90" width="8.3" height="39.70" fill="#050505"/>
<text x="419.65" y="477.78" font-size="6.7" text-anchor="middle" fill="#1a1a1a" font-weight="normal" stroke="#1a1a1a" stroke-width="0.3" textLength="7.2" lengthAdjust="spacingAndGlyphs">10</text>
<text x="403.90" y="359.32" font-size="7.3" text-anchor="middle" fill="#141414" font-weight="normal" stroke="#141414" stroke-width="0.3" textLength="16.0" lengthAdjust="spacingAndGlyphs">GBP5</text>
<text transform="translate(72.7,415.4) rotate(-90)" x="0" y="0" font-size="6.7" text-anchor="middle" fill="#1a1a1a" stroke="#1a1a1a" stroke-width="0.3" textLength="65.6" lengthAdjust="spacingAndGlyphs">Relative protein levels</text>
<line x1="81.00" y1="480.40" x2="429.00" y2="480.40" stroke="#9a9a9a" stroke-width="0.7"/>
<text x="254.40" y="491.76" font-size="6.4" text-anchor="middle" fill="#1a1a1a" font-weight="normal" stroke="#1a1a1a" stroke-width="0.3" textLength="56.5" lengthAdjust="spacingAndGlyphs">Poly I:C/SN, μg/mL</text>
<text x="68.50" y="495.80" font-size="7" text-anchor="middle" fill="#111" font-weight="bold" stroke="#111" stroke-width="0.25">c</text>
<linearGradient id="sg0" x1="0" x2="1" y1="0" y2="0"><stop offset="0" stop-color="#ececec"/><stop offset="1" stop-color="#e2e2e2"/></linearGradient>
<rect x="87.7" y="162.20" width="211.80" height="16.20" fill="url(#sg0)"/>
<rect x="87.7" y="162.20" width="211.80" height="16.20" fill="url(#vg)"/>
<clipPath id="cp0"><rect x="87.7" y="162.20" width="211.80" height="16.20"/></clipPath>
<g clip-path="url(#cp0)">
<g filter="url(#bh)">
<path d="M89.90 166.80 L94.33 165.20 L103.19 165.80 L112.05 167.20 L120.91 167.00 L129.77 166.00 L134.20 166.80 L134.20 172.40 L129.77 172.80 L120.91 173.80 L112.05 174.00 L103.19 173.00 L94.33 172.40 L89.90 172.40Z" fill="#6a6a6a" opacity="0.45"/>
<path d="M145.40 167.60 L150.04 166.90 L164.75 167.50 L178.29 166.50 L184.10 166.50 L184.10 172.30 L178.29 173.50 L164.75 174.50 L150.04 173.90 L145.40 173.20Z" fill="#6a6a6a" opacity="0.45"/>
<path d="M199.50 168.40 L203.59 167.30 L213.81 168.00 L224.04 168.30 L232.22 166.50 L237.13 165.00 L240.40 166.40 L240.40 172.00 L237.13 173.80 L232.22 174.70 L224.04 176.10 L213.81 176.40 L203.59 175.50 L199.50 174.00Z" fill="#0e0e0e" opacity="0.5"/>
<path d="M255.00 168.20 L258.82 166.60 L264.55 165.80 L276.01 165.80 L281.74 164.50 L285.56 163.40 L290.14 164.20 L293.20 167.80 L293.20 173.00 L290.14 173.00 L285.56 173.00 L281.74 173.50 L276.01 174.20 L264.55 174.20 L258.82 174.20 L255.00 173.40Z" fill="#060606" opacity="0.5"/>
</g><g filter="url(#bl)">
<path d="M91.00 168.40 L95.21 166.80 L103.63 167.40 L112.05 168.80 L120.47 168.60 L128.89 167.60 L133.10 168.40 L133.10 170.80 L128.89 171.20 L120.47 172.20 L112.05 172.40 L103.63 171.40 L95.21 170.80 L91.00 170.80Z" fill="#6a6a6a"/>
<path d="M146.50 169.20 L150.88 168.50 L164.75 169.10 L177.53 168.10 L183.00 168.10 L183.00 170.70 L177.53 171.90 L164.75 172.90 L150.88 172.30 L146.50 171.60Z" fill="#6a6a6a"/>
<path d="M200.60 170.00 L204.47 168.90 L214.15 169.60 L223.82 169.90 L231.56 168.10 L236.20 166.60 L239.30 168.00 L239.30 170.40 L236.20 172.20 L231.56 173.10 L223.82 174.50 L214.15 174.80 L204.47 173.90 L200.60 172.40Z" fill="#0e0e0e"/>
<path d="M256.10 169.80 L259.70 168.20 L265.10 167.40 L275.90 167.40 L281.30 166.10 L284.90 165.00 L289.22 165.80 L292.10 169.40 L292.10 171.40 L289.22 171.40 L284.90 171.40 L281.30 171.90 L275.90 172.60 L265.10 172.60 L259.70 172.60 L256.10 171.80Z" fill="#060606"/>
</g></g>
<path d="M87.7 178.40V162.20H299.5V178.40" stroke="#9a9a9a" stroke-width="0.8" fill="none"/>
<line x1="87.30" y1="178.40" x2="299.90" y2="178.40" stroke="#6a6a6a" stroke-width="1.0"/>
<text x="305.50" y="172.48" font-size="6.7" text-anchor="start" fill="#1a1a1a" font-weight="normal" stroke="#1a1a1a" stroke-width="0.3" textLength="43.5" lengthAdjust="spacingAndGlyphs">ISG15 (15 kDa)</text>
<linearGradient id="sg1" x1="0" x2="1" y1="0" y2="0"><stop offset="0" stop-color="#dedede"/><stop offset="1" stop-color="#e8e8e8"/></linearGradient>
<rect x="87.7" y="180.70" width="211.80" height="16.90" fill="url(#sg1)"/>
<rect x="87.7" y="180.70" width="211.80" height="16.90" fill="url(#vg)"/>
<clipPath id="cp1"><rect x="87.7" y="180.70" width="211.80" height="16.90"/></clipPath>
<g clip-path="url(#cp1)">
<g filter="url(#bh)">
<path d="M87.90 185.30 L112.50 185.75 L112.50 190.85 L87.90 190.30Z" fill="#3a3a3a" opacity="0.35"/>
<path d="M109.50 185.70 L135.30 186.20 L135.30 191.80 L109.50 190.90Z" fill="#1c1c1c" opacity="0.35"/>
<path d="M142.00 185.70 L164.70 185.80 L187.40 185.90 L187.40 191.90 L164.70 192.00 L142.00 191.90Z" fill="#101010" opacity="0.4"/>
<path d="M192.80 185.60 L215.50 185.70 L238.20 185.70 L238.20 191.50 L215.50 191.50 L192.80 191.60Z" fill="#0c0c0c" opacity="0.4"/>
<path d="M243.80 185.10 L262.40 185.50 L281.00 186.10 L290.30 186.50 L290.30 192.30 L281.00 192.70 L262.40 193.10 L243.80 193.30Z" fill="#050505" opacity="0.45"/>
</g><g filter="url(#bl)">
<path d="M89.00 186.90 L111.40 187.35 L111.40 189.25 L89.00 188.70Z" fill="#3a3a3a"/>
<path d="M110.60 187.30 L134.20 187.80 L134.20 190.20 L110.60 189.30Z" fill="#1c1c1c"/>
<path d="M143.10 187.30 L164.70 187.40 L186.30 187.50 L186.30 190.30 L164.70 190.40 L143.10 190.30Z" fill="#101010"/>
<path d="M193.90 187.20 L215.50 187.30 L237.10 187.30 L237.10 189.90 L215.50 189.90 L193.90 190.00Z" fill="#0c0c0c"/>
<path d="M244.90 186.70 L262.62 187.10 L280.34 187.70 L289.20 188.10 L289.20 190.70 L280.34 191.10 L262.62 191.50 L244.90 191.70Z" fill="#050505"/>
</g></g>
<path d="M87.7 197.60V180.70H299.5V197.60" stroke="#9a9a9a" stroke-width="0.8" fill="none"/>
<line x1="87.30" y1="197.60" x2="299.90" y2="197.60" stroke="#6a6a6a" stroke-width="1.0"/>
<text x="305.50" y="191.18" font-size="6.7" text-anchor="start" fill="#1a1a1a" font-weight="normal" stroke="#1a1a1a" stroke-width="0.3" textLength="43.5" lengthAdjust="spacingAndGlyphs">ISG56 (56 kDa)</text>
<linearGradient id="sg2" x1="0" x2="1" y1="0" y2="0"><stop offset="0" stop-color="#e8e8e8"/><stop offset="1" stop-color="#e4e4e4"/></linearGradient>
<rect x="87.7" y="200.00" width="211.80" height="16.40" fill="url(#sg2)"/>
<rect x="87.7" y="200.00" width="211.80" height="16.40" fill="url(#vg)"/>
<clipPath id="cp2"><rect x="87.7" y="200.00" width="211.80" height="16.40"/></clipPath>
<g clip-path="url(#cp2)">
<g filter="url(#bh)">
<path d="M89.90 205.50 L113.15 205.80 L136.40 205.60 L136.40 211.60 L113.15 211.80 L89.90 211.30Z" fill="#303030" opacity="0.45"/>
<path d="M143.60 206.50 L166.05 206.10 L188.50 206.00 L188.50 214.00 L166.05 214.30 L143.60 214.70Z" fill="#080808" opacity="0.45"/>
<path d="M198.40 205.00 L220.50 204.90 L242.60 204.80 L242.60 211.60 L220.50 212.10 L198.40 212.20Z" fill="#0a0a0a" opacity="0.45"/>
<path d="M251.60 205.60 L268.84 206.60 L294.70 206.70 L294.70 214.90 L268.84 215.00 L251.60 214.80Z" fill="#080808" opacity="0.45"/>
</g><g filter="url(#bl)">
<path d="M91.00 207.10 L113.15 207.40 L135.30 207.20 L135.30 210.00 L113.15 210.20 L91.00 209.70Z" fill="#303030"/>
<path d="M144.70 208.10 L166.05 207.70 L187.40 207.60 L187.40 212.40 L166.05 212.70 L144.70 213.10Z" fill="#080808"/>
<path d="M199.50 206.60 L220.50 206.50 L241.50 206.40 L241.50 210.00 L220.50 210.50 L199.50 210.60Z" fill="#0a0a0a"/>
<path d="M252.70 207.20 L269.06 208.20 L293.60 208.30 L293.60 213.30 L269.06 213.40 L252.70 213.20Z" fill="#080808"/>
</g></g>
<path d="M87.7 216.40V200.00H299.5V216.40" stroke="#9a9a9a" stroke-width="0.8" fill="none"/>
<line x1="87.30" y1="216.40" x2="299.90" y2="216.40" stroke="#6a6a6a" stroke-width="1.0"/>
<text x="305.50" y="210.88" font-size="6.7" text-anchor="start" fill="#1a1a1a" font-weight="normal" stroke="#1a1a1a" stroke-width="0.3" textLength="39.8" lengthAdjust="spacingAndGlyphs">MxA (76 kDa)</text>
<linearGradient id="sg3" x1="0" x2="1" y1="0" y2="0"><stop offset="0" stop-color="#e6e6e6"/><stop offset="1" stop-color="#e2e2e2"/></linearGradient>
<rect x="87.7" y="219.40" width="211.80" height="16.60" fill="url(#sg3)"/>
<rect x="87.7" y="219.40" width="211.80" height="16.60" fill="url(#vg)"/>
<clipPath id="cp3"><rect x="87.7" y="219.40" width="211.80" height="16.60"/></clipPath>
<g clip-path="url(#cp3)">
<g filter="url(#bh)">
<path d="M91.00 224.20 L113.15 224.80 L135.30 224.60 L135.30 231.40 L113.15 231.60 L91.00 231.00Z" fill="#151515" opacity="0.5"/>
<path d="M142.00 223.60 L165.80 224.50 L189.60 224.50 L189.60 231.90 L165.80 231.90 L142.00 230.80Z" fill="#121212" opacity="0.5"/>
<path d="M195.00 224.70 L219.35 224.70 L243.70 224.60 L243.70 233.80 L219.35 234.50 L195.00 234.10Z" fill="#060606" opacity="0.6"/>
<path d="M247.10 222.30 L270.35 222.80 L293.60 222.60 L293.60 230.60 L270.35 231.00 L247.10 230.50Z" fill="#0e0e0e" opacity="0.5"/>
</g><g filter="url(#bl)">
<path d="M92.10 225.80 L113.15 226.40 L134.20 226.20 L134.20 229.80 L113.15 230.00 L92.10 229.40Z" fill="#151515"/>
<path d="M143.10 225.20 L165.80 226.10 L188.50 226.10 L188.50 230.30 L165.80 230.30 L143.10 229.20Z" fill="#121212"/>
<path d="M196.10 226.30 L219.35 226.30 L242.60 226.20 L242.60 232.20 L219.35 232.90 L196.10 232.50Z" fill="#060606"/>
<path d="M248.20 223.90 L270.35 224.40 L292.50 224.20 L292.50 229.00 L270.35 229.40 L248.20 228.90Z" fill="#0e0e0e"/>
</g></g>
<path d="M87.7 236.00V219.40H299.5V236.00" stroke="#9a9a9a" stroke-width="0.8" fill="none"/>
<line x1="87.30" y1="236.00" x2="299.90" y2="236.00" stroke="#6a6a6a" stroke-width="1.0"/>
<text x="305.50" y="230.28" font-size="6.7" text-anchor="start" fill="#1a1a1a" font-weight="normal" stroke="#1a1a1a" stroke-width="0.3" textLength="38.7" lengthAdjust="spacingAndGlyphs">MxB (82 kDa)</text>
<linearGradient id="sg4" x1="0" x2="1" y1="0" y2="0"><stop offset="0" stop-color="#dadada"/><stop offset="1" stop-color="#c0c0c0"/></linearGradient>
<rect x="87.7" y="238.50" width="211.80" height="16.80" fill="url(#sg4)"/>
<rect x="87.7" y="238.50" width="211.80" height="16.80" fill="url(#vg)"/>
<clipPath id="cp4"><rect x="87.7" y="238.50" width="211.80" height="16.80"/></clipPath>
<g clip-path="url(#cp4)">
<g filter="url(#bh)">
<path d="M91.70 242.70 L112.95 242.90 L134.20 242.70 L134.20 248.10 L112.95 248.30 L91.70 248.10Z" fill="#a4a4a4" opacity="0.0"/>
<path d="M91.70 238.50 L112.95 238.70 L134.20 238.50 L134.20 246.10 L112.95 246.30 L91.70 246.10Z" fill="#060606" opacity="0.3"/>
<path d="M91.70 244.90 L112.95 245.20 L134.20 245.10 L134.20 251.70 L112.95 252.00 L91.70 251.50Z" fill="#6a6a6a" opacity="0.3"/>
<path d="M143.60 242.70 L165.50 242.90 L187.40 242.70 L187.40 248.10 L165.50 248.30 L143.60 248.10Z" fill="#a4a4a4" opacity="0.0"/>
<path d="M143.60 238.50 L165.50 238.70 L187.40 238.50 L187.40 246.10 L165.50 246.30 L143.60 246.10Z" fill="#060606" opacity="0.3"/>
<path d="M143.60 244.90 L165.50 245.20 L187.40 245.10 L187.40 251.70 L165.50 252.00 L143.60 251.50Z" fill="#606060" opacity="0.3"/>
<path d="M197.30 243.30 L219.40 243.50 L241.50 243.30 L241.50 248.70 L219.40 248.90 L197.30 248.70Z" fill="#a4a4a4" opacity="0.0"/>
<path d="M197.30 239.10 L219.40 239.30 L241.50 239.10 L241.50 246.70 L219.40 246.90 L197.30 246.70Z" fill="#060606" opacity="0.3"/>
<path d="M197.30 245.50 L219.40 245.80 L241.50 245.70 L241.50 252.30 L219.40 252.60 L197.30 252.10Z" fill="#626262" opacity="0.3"/>
<path d="M250.50 244.20 L271.50 244.60 L292.50 244.40 L292.50 250.00 L271.50 250.20 L250.50 249.80Z" fill="#8c8c8c" opacity="0.0"/>
<path d="M250.50 239.80 L271.50 240.10 L292.50 240.00 L292.50 247.80 L271.50 248.10 L250.50 247.80Z" fill="#060606" opacity="0.3"/>
<path d="M250.50 246.90 L271.50 247.50 L292.50 247.30 L292.50 253.90 L271.50 254.30 L250.50 253.70Z" fill="#222" opacity="0.3"/>
</g><g filter="url(#bl)">
<path d="M92.80 244.30 L112.95 244.50 L133.10 244.30 L133.10 246.50 L112.95 246.70 L92.80 246.50Z" fill="#a4a4a4"/>
<path d="M92.80 240.10 L112.95 240.30 L133.10 240.10 L133.10 244.50 L112.95 244.70 L92.80 244.50Z" fill="#060606"/>
<path d="M92.80 246.50 L112.95 246.80 L133.10 246.70 L133.10 250.10 L112.95 250.40 L92.80 249.90Z" fill="#6a6a6a"/>
<path d="M144.70 244.30 L165.50 244.50 L186.30 244.30 L186.30 246.50 L165.50 246.70 L144.70 246.50Z" fill="#a4a4a4"/>
<path d="M144.70 240.10 L165.50 240.30 L186.30 240.10 L186.30 244.50 L165.50 244.70 L144.70 244.50Z" fill="#060606"/>
<path d="M144.70 246.50 L165.50 246.80 L186.30 246.70 L186.30 250.10 L165.50 250.40 L144.70 249.90Z" fill="#606060"/>
<path d="M198.40 244.90 L219.40 245.10 L240.40 244.90 L240.40 247.10 L219.40 247.30 L198.40 247.10Z" fill="#a4a4a4"/>
<path d="M198.40 240.70 L219.40 240.90 L240.40 240.70 L240.40 245.10 L219.40 245.30 L198.40 245.10Z" fill="#060606"/>
<path d="M198.40 247.10 L219.40 247.40 L240.40 247.30 L240.40 250.70 L219.40 251.00 L198.40 250.50Z" fill="#626262"/>
<path d="M251.60 245.80 L271.50 246.20 L291.40 246.00 L291.40 248.40 L271.50 248.60 L251.60 248.20Z" fill="#8c8c8c"/>
<path d="M251.60 241.40 L271.50 241.70 L291.40 241.60 L291.40 246.20 L271.50 246.50 L251.60 246.20Z" fill="#060606"/>
<path d="M251.60 248.50 L271.50 249.10 L291.40 248.90 L291.40 252.30 L271.50 252.70 L251.60 252.10Z" fill="#222"/>
</g></g>
<path d="M87.7 255.30V238.50H299.5V255.30" stroke="#9a9a9a" stroke-width="0.8" fill="none"/>
<line x1="87.30" y1="255.30" x2="299.90" y2="255.30" stroke="#6a6a6a" stroke-width="1.0"/>
<text x="305.50" y="249.28" font-size="6.7" text-anchor="start" fill="#1a1a1a" font-weight="normal" stroke="#1a1a1a" stroke-width="0.3" textLength="56.0" lengthAdjust="spacingAndGlyphs">OAS-1 (40, 44 kDa)</text>
<linearGradient id="sg5" x1="0" x2="1" y1="0" y2="0"><stop offset="0" stop-color="#f9f9f9"/><stop offset="1" stop-color="#f7f7f7"/></linearGradient>
<rect x="87.7" y="257.80" width="211.80" height="16.80" fill="url(#sg5)"/>
<rect x="87.7" y="257.80" width="211.80" height="16.80" fill="url(#vg)"/>
<clipPath id="cp5"><rect x="87.7" y="257.80" width="211.80" height="16.80"/></clipPath>
<g clip-path="url(#cp5)">
<g filter="url(#bh)">
<path d="M92.20 265.70 L113.20 265.90 L134.20 265.70 L134.20 270.70 L113.20 270.90 L92.20 270.70Z" fill="#858585" opacity="0.25"/>
<path d="M147.60 265.30 L160.50 265.60 L160.50 271.00 L147.60 271.10Z" fill="#2a2a2a" opacity="0.3"/>
<path d="M157.50 265.70 L178.50 265.70 L178.50 270.90 L157.50 270.90Z" fill="#777" opacity="0.25"/>
<path d="M175.50 265.40 L183.96 264.80 L189.60 264.70 L189.60 271.30 L183.96 271.20 L175.50 271.00Z" fill="#151515" opacity="0.35"/>
<path d="M198.40 265.10 L218.30 265.50 L238.20 265.30 L238.20 271.10 L218.30 271.10 L198.40 271.30Z" fill="#0e0e0e" opacity="0.35"/>
<path d="M250.50 265.30 L269.40 264.90 L282.00 263.90 L292.50 264.00 L292.50 272.00 L282.00 271.70 L269.40 271.50 L250.50 271.50Z" fill="#060606" opacity="0.45"/>
</g><g filter="url(#bl)">
<path d="M93.30 267.30 L113.20 267.50 L133.10 267.30 L133.10 269.10 L113.20 269.30 L93.30 269.10Z" fill="#858585"/>
<path d="M148.70 266.90 L159.40 267.20 L159.40 269.40 L148.70 269.50Z" fill="#2a2a2a"/>
<path d="M158.60 267.30 L177.40 267.30 L177.40 269.30 L158.60 269.30Z" fill="#777"/>
<path d="M176.60 267.00 L183.74 266.40 L188.50 266.30 L188.50 269.70 L183.74 269.60 L176.60 269.40Z" fill="#151515"/>
<path d="M199.50 266.70 L218.30 267.10 L237.10 266.90 L237.10 269.50 L218.30 269.50 L199.50 269.70Z" fill="#0e0e0e"/>
<path d="M251.60 266.90 L269.51 266.50 L281.45 265.50 L291.40 265.60 L291.40 270.40 L281.45 270.10 L269.51 269.90 L251.60 269.90Z" fill="#060606"/>
</g></g>
<path d="M87.7 274.60V257.80H299.5V274.60" stroke="#9a9a9a" stroke-width="0.8" fill="none"/>
<line x1="87.30" y1="274.60" x2="299.90" y2="274.60" stroke="#6a6a6a" stroke-width="1.0"/>
<text x="305.50" y="268.28" font-size="6.7" text-anchor="start" fill="#1a1a1a" font-weight="normal" stroke="#1a1a1a" stroke-width="0.3" textLength="45.6" lengthAdjust="spacingAndGlyphs">OAS-2 (79 kDa)</text>
<linearGradient id="sg6" x1="0" x2="1" y1="0" y2="0"><stop offset="0" stop-color="#e9e9e9"/><stop offset="1" stop-color="#e2e2e2"/></linearGradient>
<rect x="87.7" y="276.50" width="211.80" height="16.70" fill="url(#sg6)"/>
<rect x="87.7" y="276.50" width="211.80" height="16.70" fill="url(#vg)"/>
<clipPath id="cp6"><rect x="87.7" y="276.50" width="211.80" height="16.70"/></clipPath>
<g clip-path="url(#cp6)">
<g filter="url(#bh)">
<path d="M91.70 281.90 L115.15 282.50 L138.60 282.40 L138.60 290.40 L115.15 290.70 L91.70 289.70Z" fill="#3a3a3a" opacity="0.55"/>
<path d="M93.00 284.80 L115.25 285.50 L137.50 285.30 L137.50 290.50 L115.25 290.90 L93.00 290.00Z" fill="#1a1a1a" opacity="0.0"/>
<path d="M143.60 282.00 L166.25 282.30 L188.90 282.20 L188.90 290.60 L166.25 290.90 L143.60 290.40Z" fill="#1c1c1c" opacity="0.55"/>
<path d="M145.00 285.10 L166.25 285.50 L187.50 285.30 L187.50 290.70 L166.25 291.10 L145.00 290.50Z" fill="#0a0a0a" opacity="0.0"/>
<path d="M194.40 282.60 L218.85 282.70 L243.30 282.70 L243.30 291.90 L218.85 292.10 L194.40 291.40Z" fill="#070707" opacity="0.55"/>
<path d="M247.10 281.30 L270.35 281.40 L293.60 280.50 L293.60 288.70 L270.35 289.80 L247.10 289.50Z" fill="#1e1e1e" opacity="0.55"/>
<path d="M248.50 284.30 L270.40 284.50 L292.30 283.60 L292.30 289.00 L270.40 290.10 L248.50 289.70Z" fill="#0a0a0a" opacity="0.0"/>
</g><g filter="url(#bl)">
<path d="M92.80 283.50 L115.15 284.10 L137.50 284.00 L137.50 288.80 L115.15 289.10 L92.80 288.10Z" fill="#3a3a3a"/>
<path d="M94.10 286.40 L115.25 287.10 L136.40 286.90 L136.40 288.90 L115.25 289.30 L94.10 288.40Z" fill="#1a1a1a"/>
<path d="M144.70 283.60 L166.25 283.90 L187.80 283.80 L187.80 289.00 L166.25 289.30 L144.70 288.80Z" fill="#1c1c1c"/>
<path d="M146.10 286.70 L166.25 287.10 L186.40 286.90 L186.40 289.10 L166.25 289.50 L146.10 288.90Z" fill="#0a0a0a"/>
<path d="M195.50 284.20 L218.85 284.30 L242.20 284.30 L242.20 290.30 L218.85 290.50 L195.50 289.80Z" fill="#070707"/>
<path d="M248.20 282.90 L270.35 283.00 L292.50 282.10 L292.50 287.10 L270.35 288.20 L248.20 287.90Z" fill="#1e1e1e"/>
<path d="M249.60 285.90 L270.40 286.10 L291.20 285.20 L291.20 287.40 L270.40 288.50 L249.60 288.10Z" fill="#0a0a0a"/>
</g></g>
<path d="M87.7 293.20V276.50H299.5V293.20" stroke="#9a9a9a" stroke-width="0.8" fill="none"/>
<line x1="87.30" y1="293.20" x2="299.90" y2="293.20" stroke="#6a6a6a" stroke-width="1.0"/>
<text x="305.50" y="288.48" font-size="6.7" text-anchor="start" fill="#1a1a1a" font-weight="normal" stroke="#1a1a1a" stroke-width="0.3" textLength="42.4" lengthAdjust="spacingAndGlyphs">GBP5 (67 kDa)</text>
<linearGradient id="sg7" x1="0" x2="1" y1="0" y2="0"><stop offset="0" stop-color="#ececec"/><stop offset="1" stop-color="#e8e8e8"/></linearGradient>
<rect x="87.7" y="295.30" width="211.80" height="16.70" fill="url(#sg7)"/>
<rect x="87.7" y="295.30" width="211.80" height="16.70" fill="url(#vg)"/>
<clipPath id="cp7"><rect x="87.7" y="295.30" width="211.80" height="16.70"/></clipPath>
<g clip-path="url(#cp7)">
<g filter="url(#bh)">
<path d="M92.20 302.00 L115.95 302.20 L139.70 302.30 L139.70 309.30 L115.95 309.40 L92.20 309.20Z" fill="#060606" opacity="0.4"/>
<path d="M144.30 302.00 L168.40 302.20 L192.50 302.30 L192.50 309.30 L168.40 309.40 L144.30 309.20Z" fill="#060606" opacity="0.4"/>
<path d="M196.20 302.00 L220.50 302.20 L244.80 302.30 L244.80 309.30 L220.50 309.40 L196.20 309.20Z" fill="#060606" opacity="0.4"/>
<path d="M247.60 302.00 L271.15 302.20 L294.70 302.30 L294.70 309.30 L271.15 309.40 L247.60 309.20Z" fill="#060606" opacity="0.4"/>
</g><g filter="url(#bl)">
<path d="M93.30 303.60 L115.95 303.80 L138.60 303.90 L138.60 307.70 L115.95 307.80 L93.30 307.60Z" fill="#060606"/>
<path d="M145.40 303.60 L168.40 303.80 L191.40 303.90 L191.40 307.70 L168.40 307.80 L145.40 307.60Z" fill="#060606"/>
<path d="M197.30 303.60 L220.50 303.80 L243.70 303.90 L243.70 307.70 L220.50 307.80 L197.30 307.60Z" fill="#060606"/>
<path d="M248.70 303.60 L271.15 303.80 L293.60 303.90 L293.60 307.70 L271.15 307.80 L248.70 307.60Z" fill="#060606"/>
</g></g>
<path d="M87.7 312.00V295.30H299.5V312.00" stroke="#9a9a9a" stroke-width="0.8" fill="none"/>
<line x1="87.30" y1="312.00" x2="299.90" y2="312.00" stroke="#6a6a6a" stroke-width="1.0"/>
<text x="305.50" y="307.38" font-size="6.7" text-anchor="start" fill="#1a1a1a" font-weight="normal" stroke="#1a1a1a" stroke-width="0.3" textLength="48.4" lengthAdjust="spacingAndGlyphs">β-Actin (43 kDa)</text>
<text x="117.80" y="323.24" font-size="6.6" text-anchor="middle" fill="#1a1a1a" font-weight="normal">0</text>
<text x="168.50" y="323.24" font-size="6.6" text-anchor="middle" fill="#1a1a1a" font-weight="normal">0.1</text>
<text x="221.30" y="323.24" font-size="6.6" text-anchor="middle" fill="#1a1a1a" font-weight="normal">1</text>
<text x="274.60" y="323.24" font-size="6.6" text-anchor="middle" fill="#1a1a1a" font-weight="normal">10</text>
<line x1="83.20" y1="327.20" x2="303.90" y2="327.20" stroke="#9a9a9a" stroke-width="0.7"/>
<text x="193.00" y="335.36" font-size="6.4" text-anchor="middle" fill="#1a1a1a" font-weight="normal" textLength="57" lengthAdjust="spacingAndGlyphs">Poly I:C/SN, μg/mL</text>
<text x="68.80" y="334.40" font-size="7" text-anchor="middle" fill="#111" font-weight="bold" stroke="#111" stroke-width="0.25">b</text>
</g></svg>
</body></html>
